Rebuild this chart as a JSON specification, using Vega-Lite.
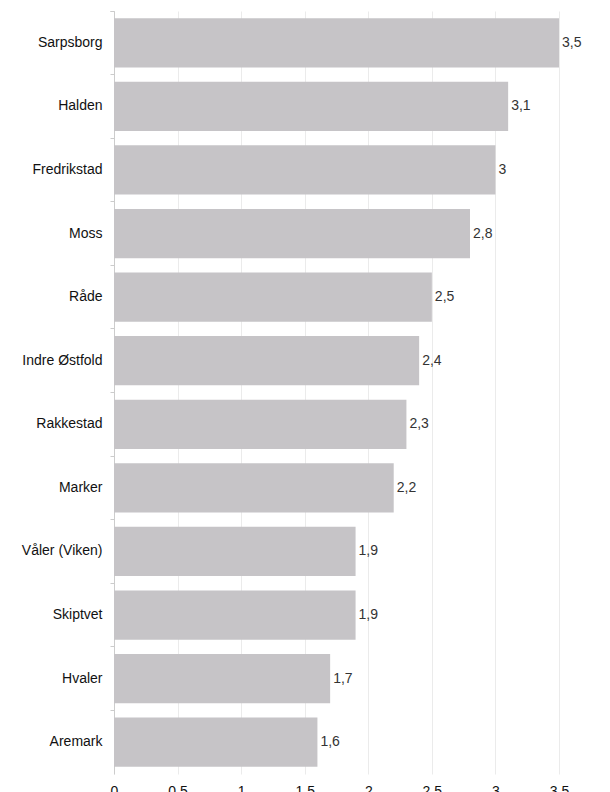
{
  "$schema": "https://vega.github.io/schema/vega-lite/v6.json",
  "autosize": {"type": "none"},
  "padding": {"left": 114, "top": 11, "right": 51, "bottom": 18},
  "width": 445,
  "height": 763,
  "background": "white",
  "config": {
    "view": {"stroke": null},
    "font": "Liberation Sans"
  },
  "data": {
    "values": [
      {"kommune": "Sarpsborg", "verdi": 3.5, "label": "3,5"},
      {"kommune": "Halden", "verdi": 3.1, "label": "3,1"},
      {"kommune": "Fredrikstad", "verdi": 3.0, "label": "3"},
      {"kommune": "Moss", "verdi": 2.8, "label": "2,8"},
      {"kommune": "Råde", "verdi": 2.5, "label": "2,5"},
      {"kommune": "Indre Østfold", "verdi": 2.4, "label": "2,4"},
      {"kommune": "Rakkestad", "verdi": 2.3, "label": "2,3"},
      {"kommune": "Marker", "verdi": 2.2, "label": "2,2"},
      {"kommune": "Våler (Viken)", "verdi": 1.9, "label": "1,9"},
      {"kommune": "Skiptvet", "verdi": 1.9, "label": "1,9"},
      {"kommune": "Hvaler", "verdi": 1.7, "label": "1,7"},
      {"kommune": "Aremark", "verdi": 1.6, "label": "1,6"}
    ]
  },
  "encoding": {
    "y": {
      "field": "kommune",
      "type": "nominal",
      "sort": null,
      "scale": {"paddingInner": 0, "paddingOuter": 0},
      "axis": {
        "title": null,
        "bandPosition": 0,
        "tickExtra": true,
        "labelFontSize": 14,
        "labelColor": "#111111",
        "labelPadding": 8,
        "tickSize": 4,
        "tickColor": "#cccccc",
        "domainColor": "#cccccc",
        "domain": true,
        "grid": false
      }
    },
    "x": {
      "field": "verdi",
      "type": "quantitative",
      "scale": {"domain": [0, 3.5], "nice": false},
      "axis": {
        "title": null,
        "values": [0, 0.5, 1, 1.5, 2, 2.5, 3, 3.5],
        "format": ".1~f",
        "labelFontSize": 14,
        "labelColor": "#111111",
        "labelPadding": 10,
        "ticks": false,
        "domain": false,
        "grid": true,
        "gridColor": "#ebebeb",
        "labelFlush": false
      }
    }
  },
  "layer": [
    {
      "mark": {"type": "bar", "color": "#c6c4c7", "height": {"band": 0.775}}
    },
    {
      "mark": {"type": "text", "align": "left", "baseline": "middle", "dx": 3, "fontSize": 14, "color": "#333333"},
      "encoding": {"text": {"field": "label"}}
    }
  ]
}
